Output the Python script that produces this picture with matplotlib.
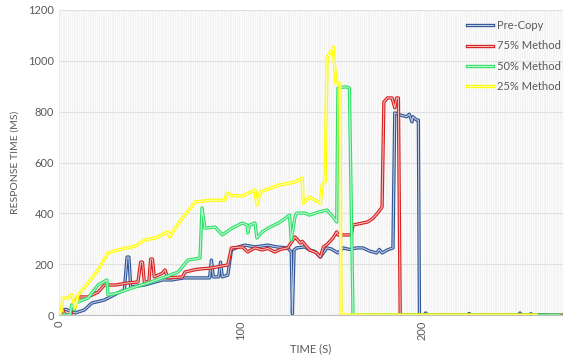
import matplotlib.pyplot as plt
import matplotlib.patheffects as pe
from matplotlib.ticker import MultipleLocator
from matplotlib.colors import to_rgb
import numpy as np

plt.rcParams['font.family'] = ['Lato', 'DejaVu Sans']

# (time s, response ms) breakpoints for each run
pre_copy = [(0, 0), (1, 20), (4, 22), (7, 12), (9, 8), (14, 20), (18, 47), (25, 59),
            (32.5, 87), (36, 98), (37.5, 228), (38.5, 228), (39.5, 110), (47, 118),
            (51, 126), (57, 138), (62, 138), (69, 146), (76, 146), (83, 146), (84, 216),
            (85, 150), (88, 150), (89, 208), (90, 150), (93, 157), (95, 256), (99, 268),
            (102.5, 275), (108, 268), (112, 272), (115, 275), (120, 268), (126, 264),
            (128, 248), (128.6, 5), (129.5, 256), (131, 264), (135.5, 268), (138, 256),
            (141, 250), (144, 228), (147.6, 264), (150, 260), (153.7, 244), (156.5, 264),
            (160, 258), (164, 264), (167.5, 264), (171, 252), (175, 244), (176.5, 258),
            (178, 244), (181, 256), (184, 264), (185, 795), (188, 787), (191.5, 780),
            (193, 790), (194.5, 760), (195, 780), (197, 767), (198, 767), (198.6, 0),
            (201, 0), (202, 8), (203, 0), (225, 0), (226, 6), (227, 0), (253, 0),
            (254, 8), (255, 0), (259, 0), (260, 5), (261, 0), (268, 0)]

method_75 = [(0, 0), (1, 15), (2, 22), (3, 5), (5, 0), (6.5, 0), (7, 20), (9, 47),
             (10.5, 71), (16, 71), (21.5, 90), (25, 118), (31, 118), (38, 126),
             (43.5, 130), (45, 208), (46, 208), (47, 130), (49.5, 130), (50.5, 220),
             (51.5, 220), (52.5, 150), (57, 165), (58.4, 177), (60, 146), (68, 150),
             (69.4, 169), (76, 180), (84, 185), (93, 197), (95, 264), (101, 268),
             (104, 248), (108, 264), (112, 256), (115, 262), (119, 248), (122, 258),
             (126, 264), (130, 307), (131, 300), (133, 283), (134, 290), (138, 256),
             (142, 244), (144, 228), (145.7, 268), (148, 280), (151, 303), (153, 327),
             (153.7, 315), (161, 315), (162, 354), (166, 360), (170, 366), (173, 380),
             (176, 405), (178, 425), (179, 838), (181, 854), (183.5, 854), (185, 815),
             (186, 854), (187, 854), (188, 0), (280, 0)]

method_50 = [(0, 0), (6, 0), (7, 40), (8.5, 20), (9, 47), (16, 67), (21.5, 118),
             (26.4, 138), (27, 79), (32.5, 87), (40, 106), (49, 126), (57, 146),
             (65.6, 169), (71, 216), (77.7, 224), (78.8, 421), (80.4, 342), (86, 346),
             (90, 315), (95, 340), (101, 362), (103.6, 354), (104, 323), (105, 354),
             (108, 362), (109, 303), (112, 327), (116, 345), (121, 362), (127, 393),
             (128, 295), (130, 386), (131, 401), (135.5, 401), (138, 393), (143, 405),
             (147.6, 413), (151, 386), (153, 366), (153.7, 893), (157, 897),
             (158.6, 897), (160, 893), (162, 0), (276, 0)]

method_25 = [(0, 0), (1.5, 20), (2, 67), (5, 67), (7, 80), (9, 30), (10.5, 79),
             (16, 126), (21.5, 177), (27, 244), (32.5, 256), (42, 271), (47, 295),
             (53, 303), (60, 327), (61, 307), (62, 320), (68, 382), (73, 425), (75, 445),
             (85, 452), (91.5, 452), (92.5, 480), (95, 470), (101, 468), (108, 492),
             (109, 433), (111, 484), (121, 511), (127, 519), (130, 523), (134, 539),
             (134.5, 440), (138, 464), (141, 452), (144, 440), (145, 511), (146.6, 523),
             (147.7, 1015), (150.4, 1042), (151, 1054), (152.6, 912), (154.8, 912),
             (155.4, 0), (263, 0)]

series = [('Pre-Copy', pre_copy, '#2F5597'),
          ('75% Method', method_75, '#D61F1F'),
          ('50% Method', method_50, '#2EE068'),
          ('25% Method', method_25, '#FFFF00')]

fig = plt.figure(figsize=(5.63, 3.62), dpi=100)
ax = fig.add_axes([0.1048, 0.1298, 0.8952, 0.8426])
ax.set_facecolor('#FBFBFB')

for name, pts, col in series:
    t, v = np.array(pts).T
    # light core inside a coloured outline
    core = tuple(0.3 * c + 0.7 for c in to_rgb(col))
    ax.plot(t, v, color=core, lw=0.8, label=name, solid_joinstyle='round',
            path_effects=[pe.Stroke(linewidth=2.4, foreground=col), pe.Normal()])

ax.set_xlim(0, 277.7)
ax.set_ylim(0, 1200)
ax.xaxis.set_major_locator(MultipleLocator(100))
ax.xaxis.set_minor_locator(MultipleLocator(1))
ax.yaxis.set_major_locator(MultipleLocator(200))
ax.grid(which='minor', axis='x', color='#F0F0F0', lw=0.5)
ax.grid(which='major', axis='y', color='#E0E0E0', lw=0.8)
ax.set_axisbelow(True)

for s in ['top', 'right']:
    ax.spines[s].set_visible(False)
ax.spines['left'].set_color('#E8E8E8')
ax.spines['bottom'].set_color('#BFBFBF')
ax.tick_params(which='both', length=0, colors='#595959', labelsize=8)
ax.tick_params(axis='x', labelrotation=90, pad=4)

ax.set_xlabel('TIME (S)', color='#595959', fontsize=8, labelpad=2)
ax.set_ylabel('RESPONSE TIME (MS)', color='#595959', fontsize=7.5, labelpad=6)

leg = ax.legend(loc='upper left', bbox_to_anchor=(0.79, 1.0), frameon=False,
                fontsize=8, handlelength=2.3, handletextpad=0.4, labelspacing=0.85)
for txt in leg.get_texts():
    txt.set_color('#595959')

fig.savefig('out.png', dpi=100)
